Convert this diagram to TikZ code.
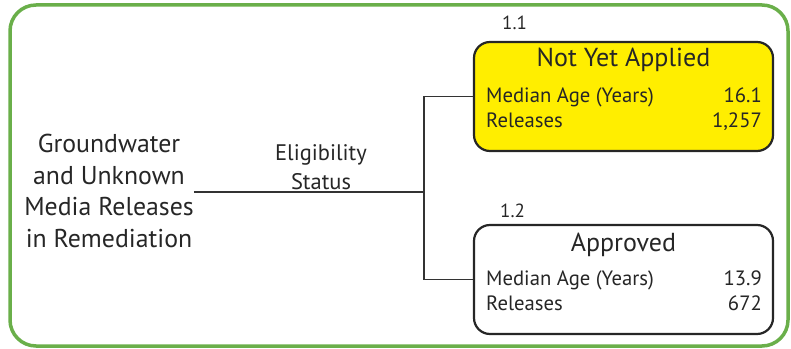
\documentclass[tikz,border=0pt]{standalone}
\usepackage{fontspec}
\setmainfont{PT Sans}
\begin{document}
\begin{tikzpicture}[x=1pt,y=1pt,
  frame/.style={draw=framegreen,line width=3.5pt,rounded corners=26pt},
  catbox/.style={draw=black!85,line width=2.2pt,rounded corners=16pt,minimum width=299pt,minimum height=109pt,inner sep=0pt},
  conn/.style={draw=black!80,line width=1.5pt},
  title/.style={font=\fontsize{26}{30}\selectfont,inner sep=0pt,text=black!85},
  row/.style={font=\fontsize{20.7}{24}\selectfont,inner sep=0pt,text=black!85},
  num/.style={font=\fontsize{19}{22}\selectfont,inner sep=0pt,text=black!85},
  lefttext/.style={font=\fontsize{25.8}{31.5}\selectfont,align=center,inner sep=0pt,text=black!85},
  midtext/.style={font=\fontsize{22.5}{29}\selectfont,align=center,inner sep=0pt,text=black!85}]
\definecolor{framegreen}{HTML}{6AAF4A}
\definecolor{boxyellow}{HTML}{FFEE00}
\useasboundingbox (0,0) rectangle (791,348);
\draw[frame] (10,2) rectangle (788,343);
% category boxes
\node[catbox,fill=boxyellow] (b1) at (623.5,251.5) {};
\node[catbox,fill=white] (b2) at (623.5,68.5) {};
% labels above boxes
\node[num,anchor=base west] (l1) at (502,318) {1.1};
\node[num,anchor=base west] (l2) at (500,130) {1.2};
% box 1 content
\node[title] (t1) at (623.5,288) {Not Yet Applied};
\node[row,anchor=base west] (m1) at (486,245) {Median Age (Years)};
\node[row,anchor=base east] (v1) at (762,245) {16.1};
\node[row,anchor=base west] (r1) at (486,220) {Releases};
\node[row,anchor=base east] (w1) at (762,220) {1,257};
% box 2 content
\node[title] (t2) at (623.5,103) {Approved};
\node[row,anchor=base west] (m2) at (486,63) {Median Age (Years)};
\node[row,anchor=base east] (v2) at (762,63) {13.9};
\node[row,anchor=base west] (r2) at (486,38) {Releases};
\node[row,anchor=base east] (w2) at (762,38) {672};
% root text
\node[lefttext] (root) at (109,157) {Groundwater\\and Unknown\\Media Releases\\in Remediation};
\node[midtext] (elig) at (321,181) {Eligibility\\Status};
% connectors
\coordinate (split) at (424,156);
\draw[conn] (root.east |- split) -- (split);
\draw[conn] (split) |- (b1.west);
\draw[conn] (split) |- (b2.west);
\end{tikzpicture}
\end{document}
